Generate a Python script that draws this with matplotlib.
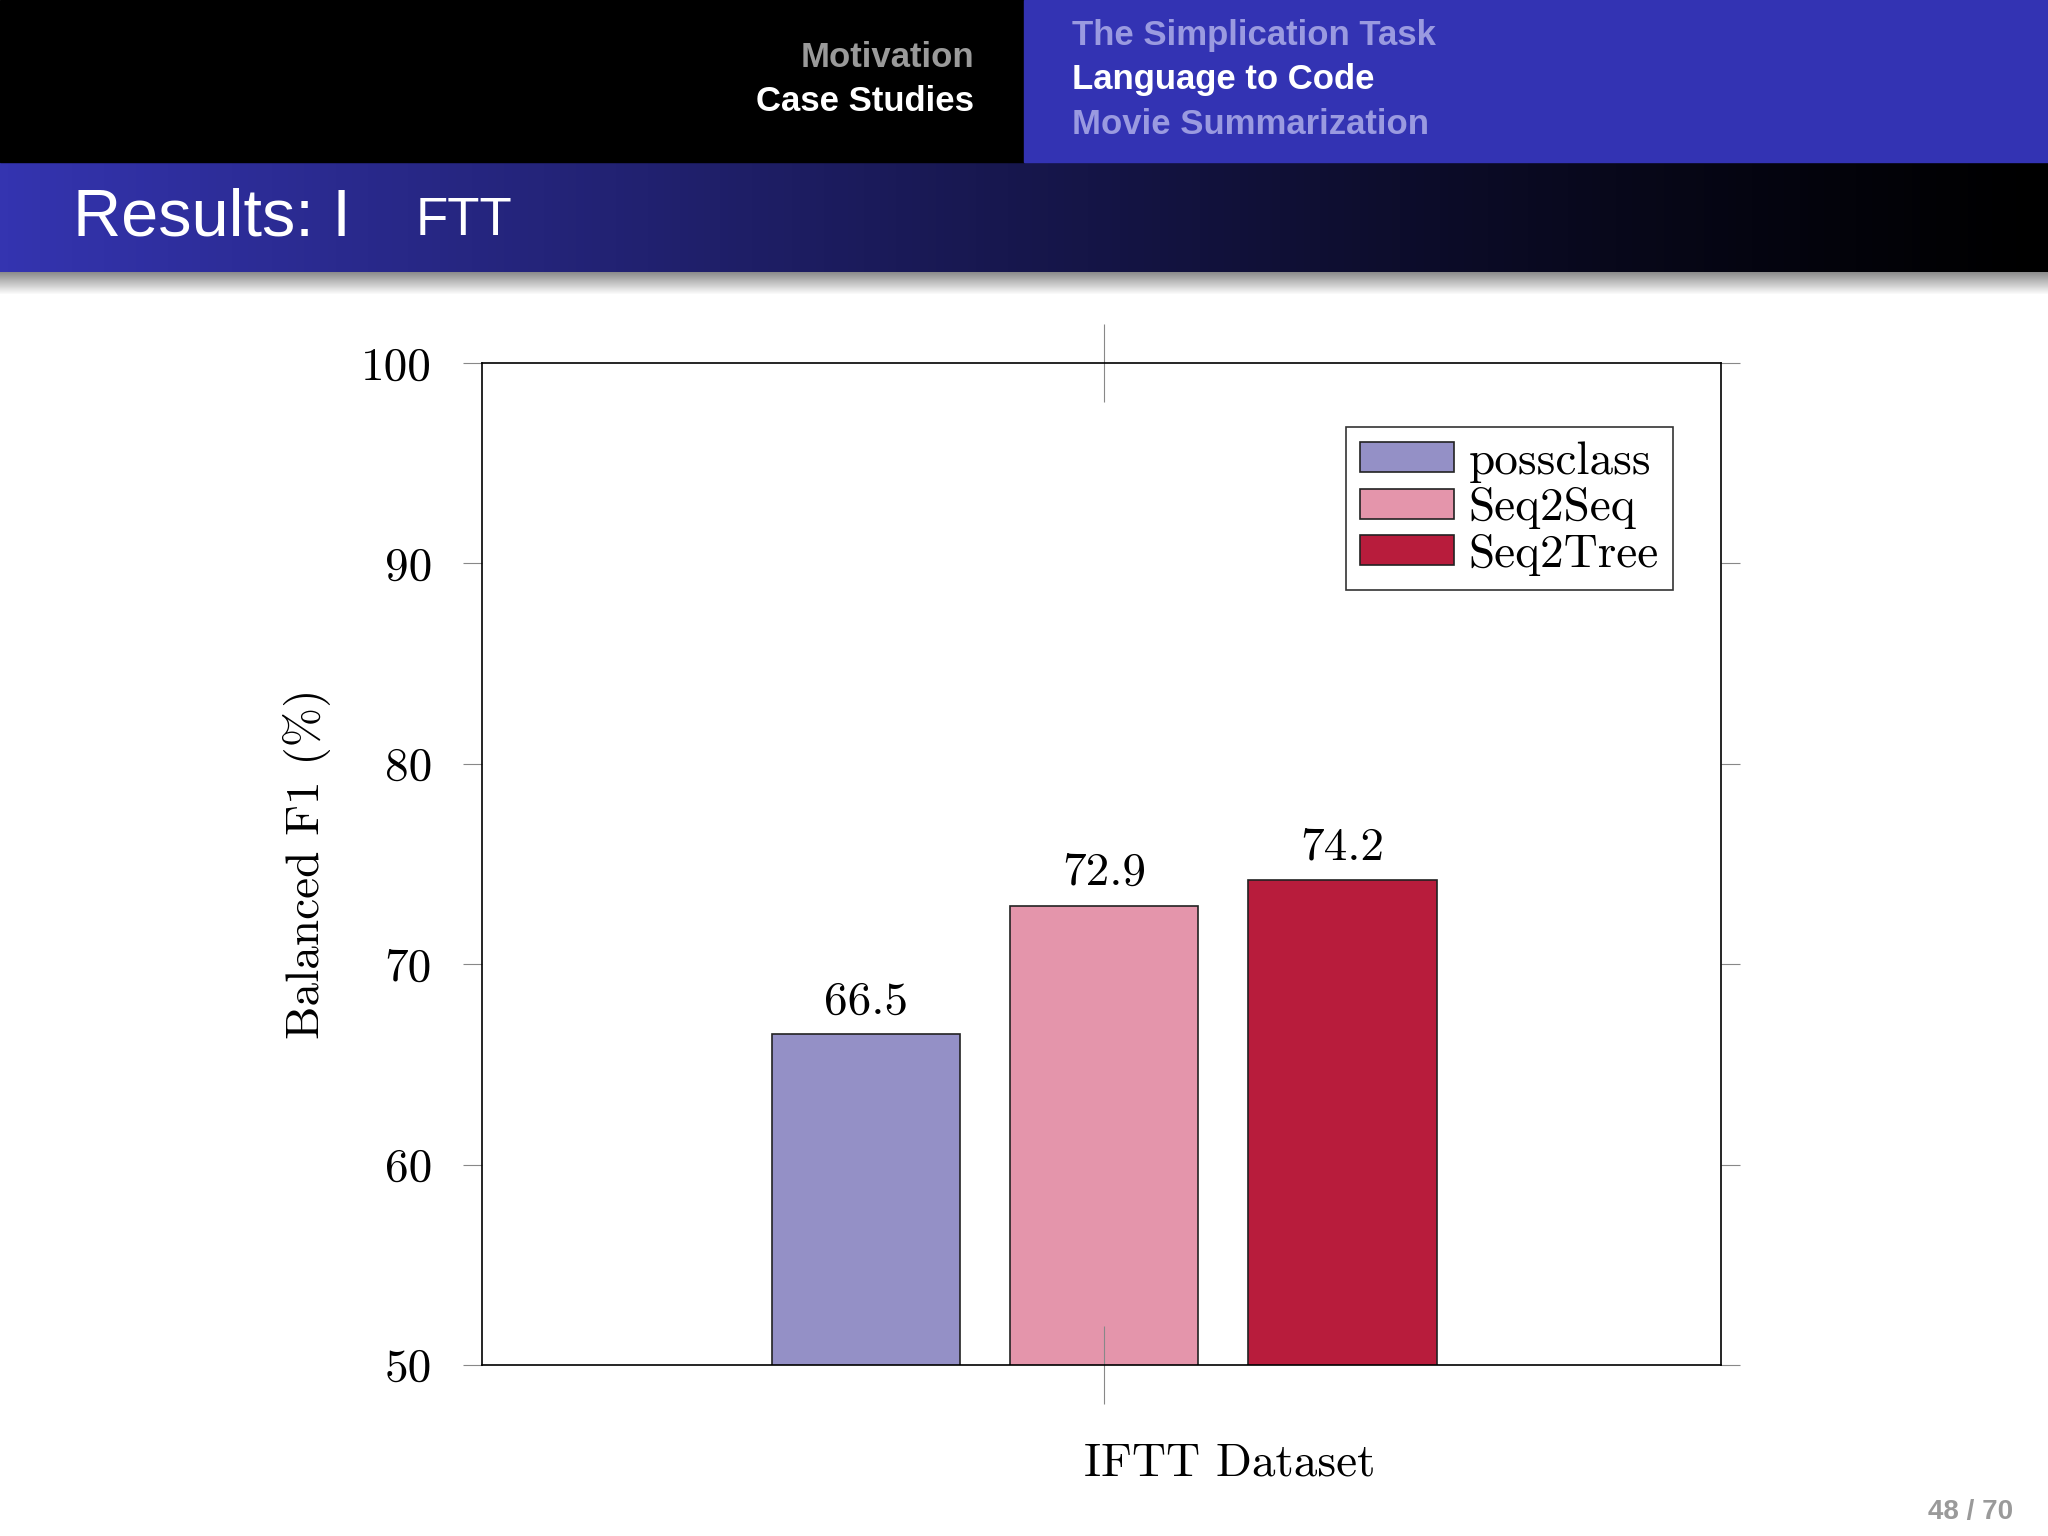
import numpy as np
import matplotlib
matplotlib.use("Agg")
import matplotlib.pyplot as plt
from matplotlib.patches import Rectangle

series = ["possclass", "Seq2Seq", "Seq2Tree"]
values = [66.5, 72.9, 74.2]
colors = ["#9490c6", "#e495ab", "#b81c3c"]
yticks = [50, 60, 70, 80, 90, 100]

W, H = 1568, 1176
fig = plt.figure(figsize=(20.48, 15.36), dpi=100)
fig.patch.set_facecolor("white")

# Header
bg = fig.add_axes([0, 0, 1, 1], zorder=-1)
bg.set_xlim(0, W); bg.set_ylim(H, 0); bg.axis("off")
bg.add_patch(Rectangle((0, 0), 784, 124, color="black"))
bg.add_patch(Rectangle((784, 0), 784, 124, color="#3333b3"))
grad = np.linspace(0, 1, 256)[None, :]
c0 = np.array([0x34, 0x34, 0xb0]) / 255
cols = (c0[None, None, :] * (1 - grad[..., None]) ** 1.2)
bg.imshow(cols, extent=[0, W, 209, 124], aspect="auto")
shadow = np.linspace(0.55, 1, 20)[:, None, None] * np.ones((1, 2, 3))
bg.imshow(shadow, extent=[0, W, 226, 209], aspect="auto")
bg.set_xlim(0, W); bg.set_ylim(H, 0)
hf = dict(family="Liberation Sans", fontweight="bold", fontsize=25)
bg.text(746, 44, "Motivation", color="#9a9a9a", ha="right", va="center", **hf)
bg.text(746, 78, "Case Studies", color="white", ha="right", va="center", **hf)
bg.text(821, 27, "The Simplication Task", color="#9a9ae0", ha="left", va="center", **hf)
bg.text(821, 61, "Language to Code", color="white", ha="left", va="center", **hf)
bg.text(821, 95, "Movie Summarization", color="#9a9ae0", ha="left", va="center", **hf)
t = bg.text(56, 167, "Results: I", color="white", ha="left", va="center",
            family="Liberation Sans", fontsize=48)
bg.text(318, 169, "FTT", color="white", ha="left", va="center",
        family="Liberation Sans", fontsize=38)
bg.text(1541, 1158, "48 / 70", color="#9a9a9a", ha="right", va="center",
        family="Liberation Sans", fontweight="bold", fontsize=20)

# Chart
serif = "cmr10"
ax = fig.add_axes([369 / W, 1 - 1045 / H, (1318 - 369) / W, (1045 - 278) / H])
x = np.arange(len(series)) - 1
bars = ax.bar(x, values, width=0.79, bottom=0, color=colors,
              edgecolor="#222222", linewidth=1.2, label=series)
for b, v in zip(bars, values):
    ax.text(b.get_x() + b.get_width() / 2, v + 0.6, f"{v}", ha="center",
            va="bottom", fontsize=34, family=serif)
ax.set_xlim(-2.61, 2.59)
ax.set_ylim(50, 100)
ax.set_yticks(yticks)
ax.set_yticklabels([str(v) for v in yticks], family=serif, fontsize=34)
ax.set_xticks([0]); ax.set_xticklabels([""])
ax.tick_params(axis="y", which="both", direction="out", length=14, width=0.8,
               right=True, color="#888888", pad=22)
ax.tick_params(axis="x", direction="inout", length=56, width=0.8, top=True,
               color="#888888")
for s in ax.spines.values():
    s.set_linewidth(1.2)
ax.set_ylabel("Balanced F1 (%)", family=serif, fontsize=34, labelpad=22)
fig.text(843 / W, 1 - 1121 / H, "I", family=serif, fontsize=34, ha="right", va="center")
fig.text(843 / W, 1 - 1121 / H, "FTT Dataset", family=serif, fontsize=34, ha="left", va="center")
for l in fig.texts[-2:]:
    pass
leg = ax.legend(loc="upper right", bbox_to_anchor=(0.98, 0.96), prop={"family": serif, "size": 34},
                frameon=True, fancybox=False, edgecolor="black", handlelength=2.0,
                handleheight=0.6, handletextpad=0.3, labelspacing=0.1, borderpad=0.3)
leg.get_frame().set_linewidth(1.2)
fig.savefig("out.png", dpi=100)
